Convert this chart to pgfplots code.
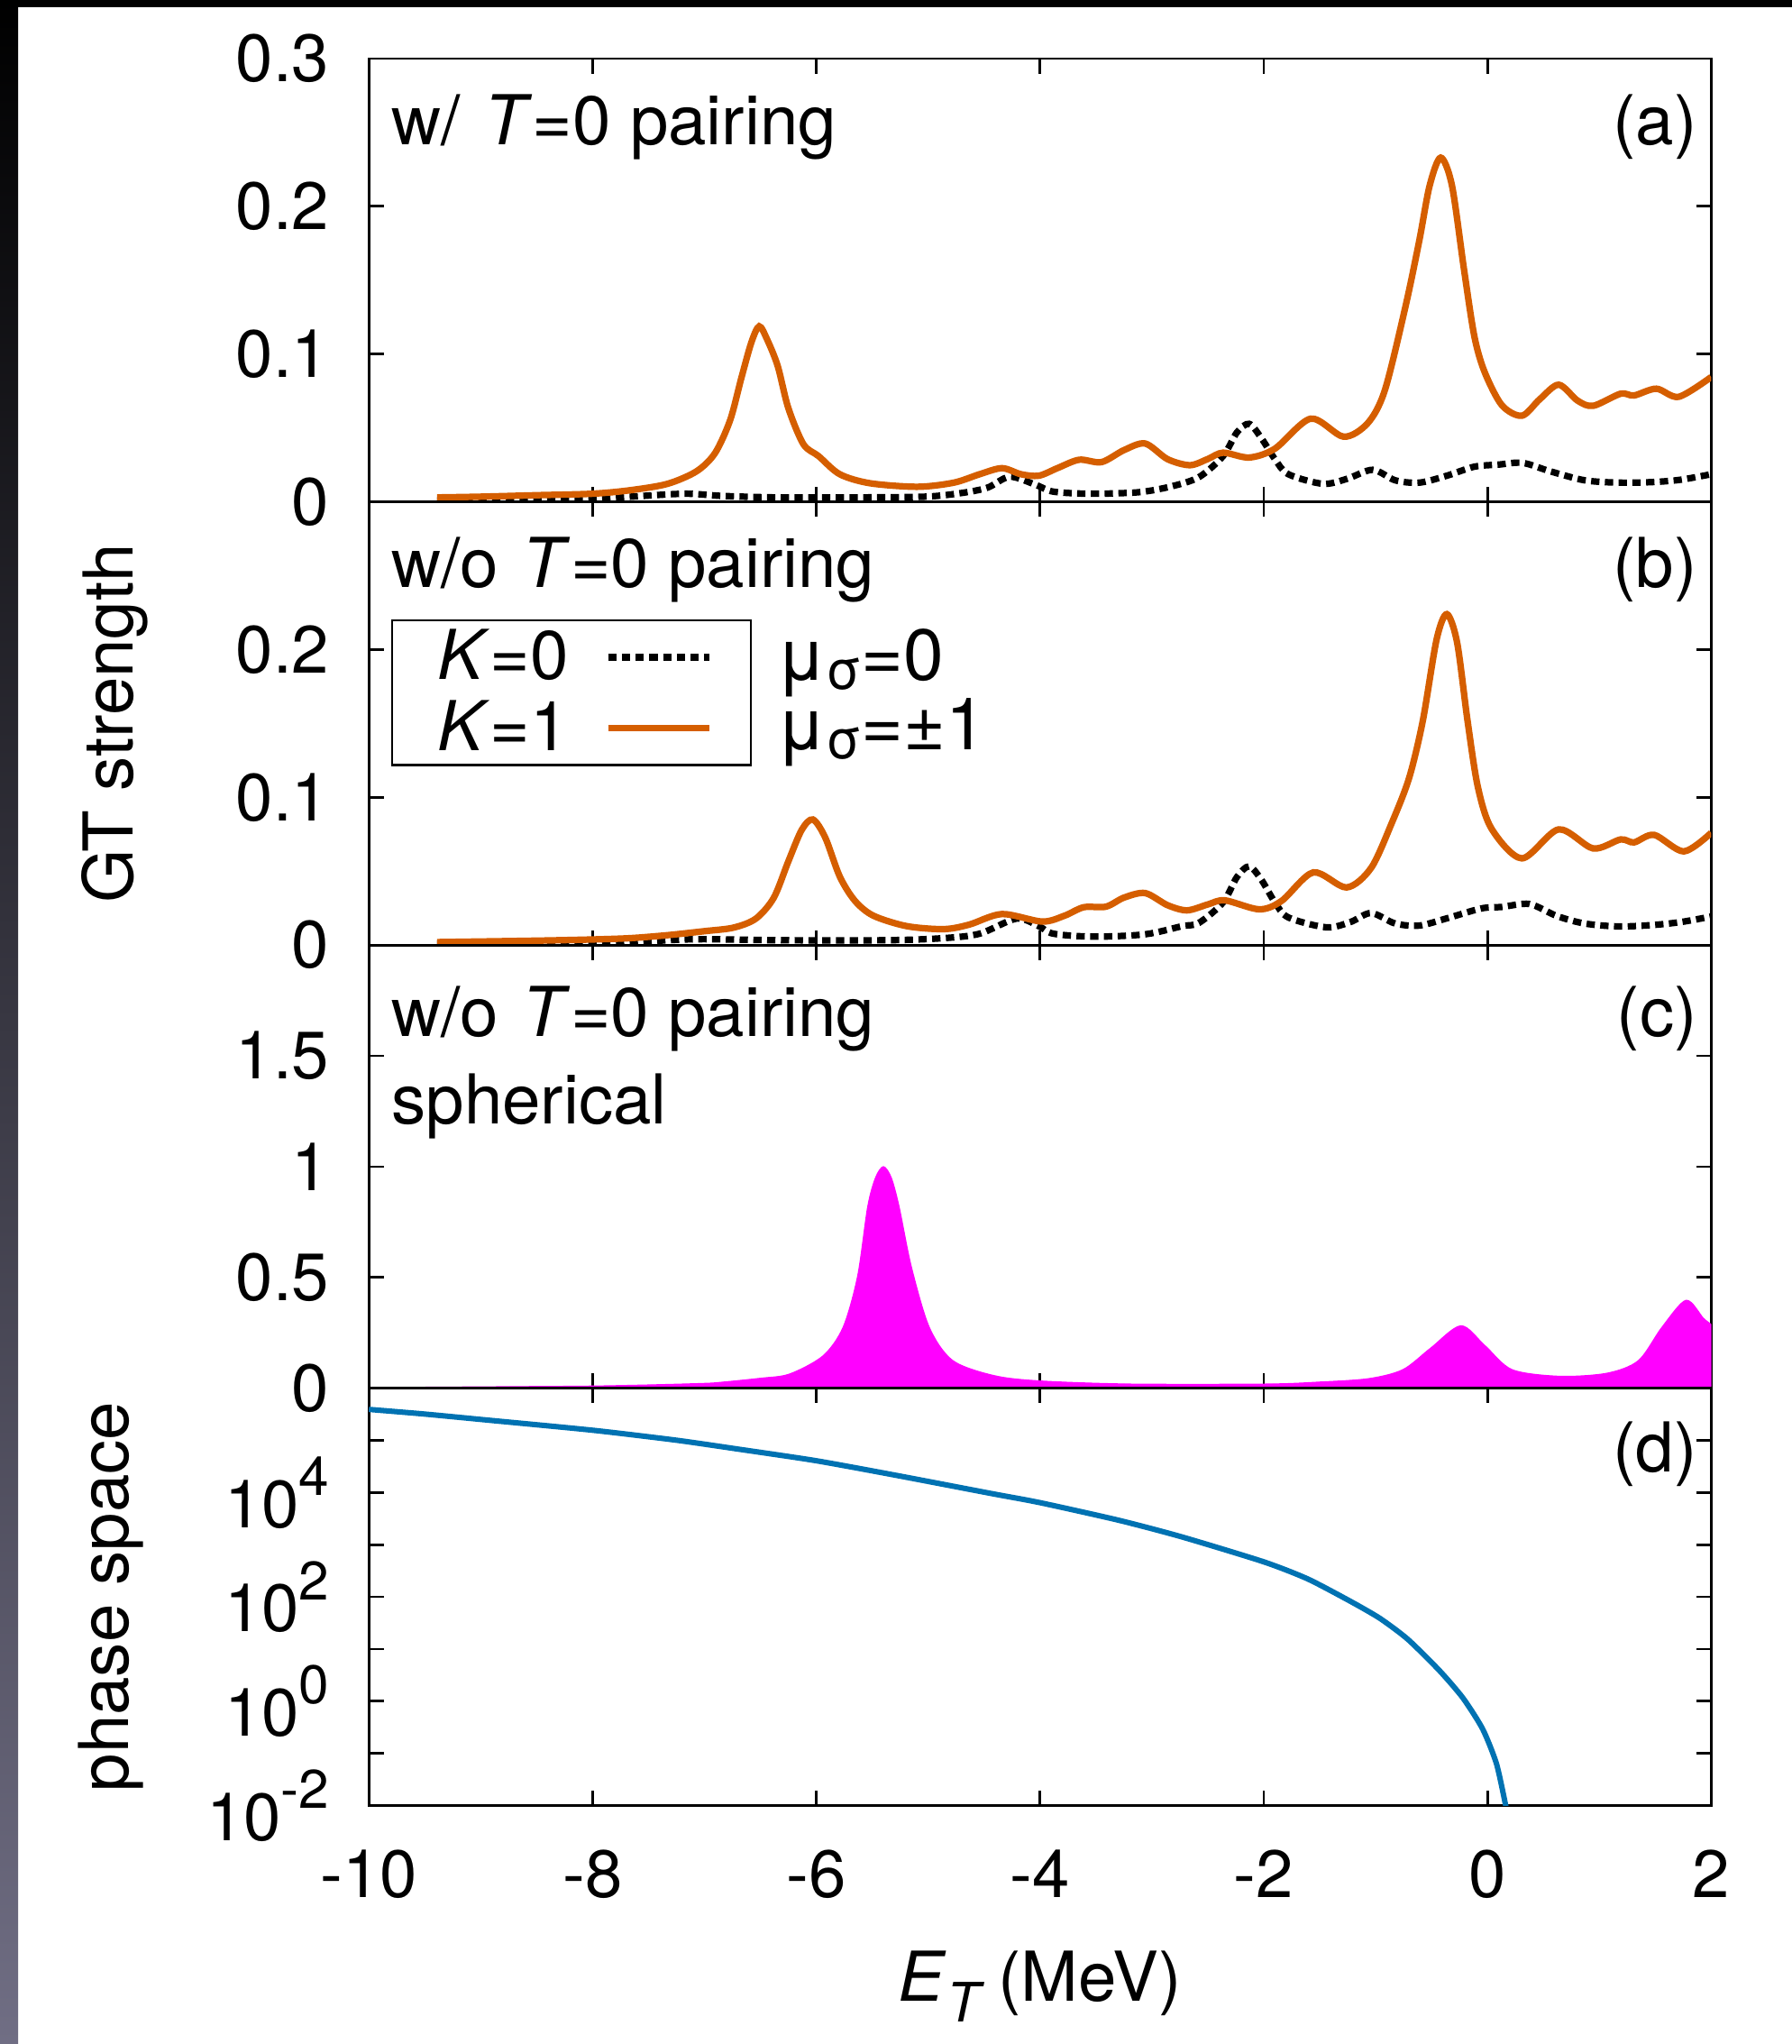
\documentclass[border=0pt]{standalone}
\usepackage{fontspec}
\setmainfont{TeX Gyre Heros}
\usepackage{pgfplots}
\pgfplotsset{compat=1.18}
\definecolor{vorange}{RGB}{213,94,0}
\definecolor{vblue}{RGB}{0,114,178}
\definecolor{vmag}{RGB}{255,0,255}
\definecolor{framemid}{RGB}{22,22,50}
\definecolor{framebot}{RGB}{112,110,132}
\newcommand{\fs}{\fontsize{19}{22}\selectfont}
\newcommand{\tfs}{\fontsize{18.5}{21}\selectfont}
\newcommand{\tp}[1]{10\raisebox{0.48em}{\fontsize{15}{15}\selectfont #1}}
\newcommand{\musig}{μ\raisebox{-0.12em}{\fontsize{15}{15}\selectfont σ}}
\tikzset{
 lab/.style={anchor=base west, font=\fs, inner sep=0pt},
 labr/.style={anchor=base east, font=\fs, inner sep=0pt},
}
\pgfplotsset{
 panel/.style={
   scale only axis, width=370.8pt, height=122.4pt, xmin=-10, xmax=2,
   xtick={-10,-8,...,2}, tick align=inside, major tick length=4.1pt,
   axis line style={line width=0.7pt}, every tick/.style={black,line width=0.7pt},
   xticklabels={},
   tick label style={font=\tfs},
   yticklabel style={xshift=-7.4pt},
   clip mode=individual, anchor=south west,
   every axis y label/.style={rotate=90, anchor=center, font=\fs},
 },
 dotline/.style={black, line width=1.8pt, dash pattern=on 2.3pt off 1.5pt, smooth, tension=0.5},
 orline/.style={vorange, line width=1.8pt, smooth, tension=0.5},
}
\begin{document}
\begin{tikzpicture}
\fill[white] (0,0) rectangle (495pt,564.48pt);
\useasboundingbox (0,0) rectangle (495pt,564.48pt);
\fill[black] (0,562.4pt) rectangle (495pt,564.48pt);
\shade[top color=black, middle color=framemid, bottom color=framebot] (0,0) rectangle (5pt,564.48pt);

% ---------- panel (a)
\begin{axis}[panel, at={(101.88pt,425.88pt)}, ymin=0, ymax=0.3,
  ytick={0,0.1,0.2,0.3}, yticklabels={0,0.1,0.2,0.3}]
\addplot[dotline] coordinates {
(-9.39,0.001) (-8.5,0.0015) (-8.0,0.002) (-7.66,0.0035) (-7.17,0.0055) (-6.84,0.004)
(-6.35,0.003) (-5.69,0.003) (-5.03,0.0035) (-4.70,0.006) (-4.47,0.0096) (-4.27,0.017)
(-4.04,0.0116) (-3.88,0.0069) (-3.55,0.0055) (-3.12,0.0065) (-2.83,0.0104) (-2.58,0.0167)
(-2.363,0.031) (-2.24,0.047) (-2.13,0.0528) (-2.02,0.043) (-1.90,0.0289) (-1.78,0.0187)
(-1.47,0.0122) (-1.255,0.0156) (-1.025,0.0217) (-0.825,0.0146) (-0.609,0.013) (-0.363,0.0177)
(-0.117,0.0238) (0.098,0.0252) (0.314,0.0264) (0.56,0.0207) (0.868,0.0146) (1.175,0.013)
(1.48,0.0134) (1.73,0.015) (2.0,0.0187)};
\addplot[orline] coordinates {
(-9.39,0.003) (-9.0,0.0035) (-8.5,0.0045) (-8.0,0.0055) (-7.66,0.0079) (-7.33,0.0122)
(-7.07,0.0207) (-6.905,0.033) (-6.77,0.0553) (-6.67,0.0838) (-6.58,0.108) (-6.51,0.1188)
(-6.44,0.110) (-6.345,0.092) (-6.25,0.0635) (-6.115,0.039) (-5.98,0.031) (-5.79,0.0187)
(-5.52,0.0126) (-5.095,0.0102) (-4.77,0.013) (-4.54,0.0187) (-4.34,0.0228) (-4.17,0.0187)
(-4.01,0.0177) (-3.845,0.0228) (-3.65,0.0285) (-3.45,0.0269) (-3.25,0.035) (-3.06,0.0395)
(-2.86,0.0289) (-2.66,0.0248) (-2.50,0.029) (-2.363,0.0333) (-2.13,0.030) (-1.90,0.036)
(-1.58,0.0563) (-1.286,0.0441) (-1.07,0.0533) (-0.917,0.0756) (-0.732,0.1325) (-0.609,0.177)
(-0.517,0.214) (-0.418,0.233) (-0.317,0.214) (-0.209,0.157) (-0.117,0.112) (-0.025,0.0878)
(0.129,0.0654) (0.308,0.0583) (0.468,0.0695) (0.637,0.0793) (0.806,0.0685) (0.945,0.065)
(1.19,0.0732) (1.31,0.072) (1.51,0.0766) (1.71,0.0711) (2.0,0.0845)};
\node[lab] at (rel axis cs:0.0165,0.806) {w/\hspace{0.35em}\textit{T}=0 pairing};
\node[labr] at (rel axis cs:0.990,0.806) {(a)};
\end{axis}

% ---------- panel (b)
\begin{axis}[panel, at={(101.88pt,303.48pt)}, ymin=0, ymax=0.3,
  ytick={0,0.1,0.2,0.3}, yticklabels={0,0.1,0.2,{}},
  ylabel={GT strength},
  ylabel style={at={(axis description cs:-0.1893,0.5)}},
  legend style={at={(rel axis cs:0.0165,0.735)}, anchor=north west, draw=black,
    line width=0.6pt, font=\fs, inner xsep=10.6pt, inner ysep=0.5pt, row sep=0.2pt,
    column sep=8pt, nodes={inner sep=2pt}},
  legend plot pos=right,
  legend image code/.code={\draw[#1] (0pt,0pt) -- (28pt,0pt);}]
\addplot[dotline] coordinates {
(-9.39,0.001) (-8.5,0.0012) (-7.66,0.0016) (-7.33,0.0033) (-7.0,0.004) (-6.35,0.0033)
(-5.36,0.0033) (-4.86,0.0047) (-4.54,0.0077) (-4.21,0.0179) (-4.01,0.0128) (-3.88,0.0077)
(-3.52,0.0057) (-3.06,0.0073) (-2.73,0.0128) (-2.58,0.015) (-2.363,0.0289) (-2.24,0.046)
(-2.13,0.0533) (-2.02,0.0441) (-1.90,0.0289) (-1.78,0.0187) (-1.44,0.012) (-1.225,0.0156)
(-1.04,0.0217) (-0.825,0.0146) (-0.609,0.0132) (-0.363,0.0181) (-0.055,0.0248) (0.129,0.0258)
(0.375,0.0278) (0.62,0.0197) (0.868,0.0146) (1.175,0.0126) (1.48,0.0136) (1.73,0.0156)
(2.0,0.0193)};
\addlegendentry{\textit{K}=0}
\addplot[orline] coordinates {
(-9.39,0.002) (-8.5,0.003) (-8.0,0.0038) (-7.66,0.0047) (-7.33,0.0067) (-7.0,0.0094)
(-6.74,0.0118) (-6.54,0.0179) (-6.38,0.032) (-6.25,0.0566) (-6.13,0.078) (-6.03,0.085)
(-5.92,0.0728) (-5.79,0.0464) (-5.655,0.030) (-5.49,0.0199) (-5.19,0.0128) (-4.86,0.0108)
(-4.635,0.0138) (-4.34,0.021) (-3.98,0.0159) (-3.78,0.0199) (-3.61,0.0256) (-3.41,0.026)
(-3.25,0.0321) (-3.06,0.0352) (-2.86,0.027) (-2.686,0.0235) (-2.50,0.0275) (-2.348,0.0303)
(-2.04,0.0242) (-1.84,0.0299) (-1.557,0.0492) (-1.26,0.039) (-1.04,0.0522) (-0.855,0.0827)
(-0.70,0.1132) (-0.578,0.1518) (-0.455,0.2067) (-0.363,0.224) (-0.271,0.2047) (-0.178,0.1518)
(-0.086,0.1071) (0.037,0.0787) (0.308,0.0587) (0.637,0.0783) (0.945,0.0654) (1.19,0.0715)
(1.31,0.0695) (1.49,0.0746) (1.755,0.0634) (2.0,0.076)};
\addlegendentry{\textit{K}=1}
\node[lab] at (rel axis cs:0.0165,0.806) {w/o\hspace{0.35em}\textit{T}=0 pairing};
\node[labr] at (rel axis cs:0.990,0.806) {(b)};
\node[lab, font=\fontsize{20}{22}\selectfont] at (rel axis cs:0.3029,0.597) {\musig=0};
\node[lab, font=\fontsize{20}{22}\selectfont] at (rel axis cs:0.3029,0.441) {\musig=±1};
\end{axis}

% ---------- panel (c)
\begin{axis}[panel, at={(101.88pt,181.08pt)}, ymin=0, ymax=2,
  ytick={0,0.5,1,1.5,2}, yticklabels={0,0.5,1,1.5,{}}]
\addplot[fill=vmag, draw=vmag, line width=0.3pt, smooth, tension=0.5] coordinates {
(-9.8,0.004) (-9.39,0.005) (-8.5,0.008) (-8.0,0.01) (-7.5,0.015) (-7.0,0.022) (-6.85,0.027)
(-6.5,0.045) (-6.24,0.064) (-5.94,0.146) (-5.76,0.275) (-5.63,0.506) (-5.54,0.819)
(-5.47,0.95) (-5.40,1.0) (-5.33,0.95) (-5.26,0.819) (-5.15,0.547) (-4.99,0.275) (-4.78,0.125)
(-4.41,0.057) (-4.0,0.033) (-3.195,0.019) (-1.976,0.019) (-1.5,0.028) (-1.06,0.0435)
(-0.756,0.084) (-0.51,0.18) (-0.238,0.282) (-0.024,0.193) (0.22,0.084) (0.646,0.054)
(1.07,0.068) (1.35,0.125) (1.56,0.275) (1.775,0.397) (1.93,0.316) (2.0,0.288)} \closedcycle;
\node[lab] at (rel axis cs:0.0165,0.794) {w/o\hspace{0.35em}\textit{T}=0 pairing};
\node[lab] at (rel axis cs:0.0165,0.597) {spherical};
\node[labr] at (rel axis cs:0.990,0.794) {(c)};
\end{axis}

% ---------- panel (d)
\begin{axis}[panel, at={(101.88pt,65.88pt)}, height=115.2pt, ymode=log, ymin=1e-2, ymax=1e6,
  ytick={0.01,0.1,1,10,100,1000,10000,100000},
  yticklabels={\tp{-2},{},\tp{0},{},\tp{2},{},\tp{4},{}},
  yminorticks=false,
  xticklabels={-10,-8,-6,-4,-2,0,2},
  xticklabel style={yshift=-8.8pt},
  ylabel={phase space},
  ylabel style={at={(axis description cs:-0.1923,0.5)}},
  xlabel={\textit{E}\raisebox{-0.3em}{\fontsize{15}{15}\selectfont\textit{T}}\hspace{0.2em}(MeV)},
  xlabel style={at={(axis description cs:0.5,-0.469)}, anchor=base, font=\fs}]
\addplot[vblue, line width=1.5pt, smooth, tension=0.4] coordinates {
(-10,3.94e5) (-9.51,3.22e5) (-8.95,2.47e5) (-8.0,1.57e5) (-7.25,1.01e5) (-6.69,6.78e4)
(-6.0,4.08e4) (-5.28,2.13e4) (-4.43,9.55e3) (-4.0,6.41e3) (-3.30,2.96e3) (-2.735,1.42e3)
(-2.0,470) (-1.605,220) (-1.22,81.1) (-0.961,38.7) (-0.714,15.5) (-0.431,3.90)
(-0.219,1.15) (-0.042,0.29) (0.081,0.0627) (0.163,0.01) (0.17,0.008)};
\node[labr] at (rel axis cs:0.990,0.80) {(d)};
\end{axis}
\end{tikzpicture}
\end{document}
